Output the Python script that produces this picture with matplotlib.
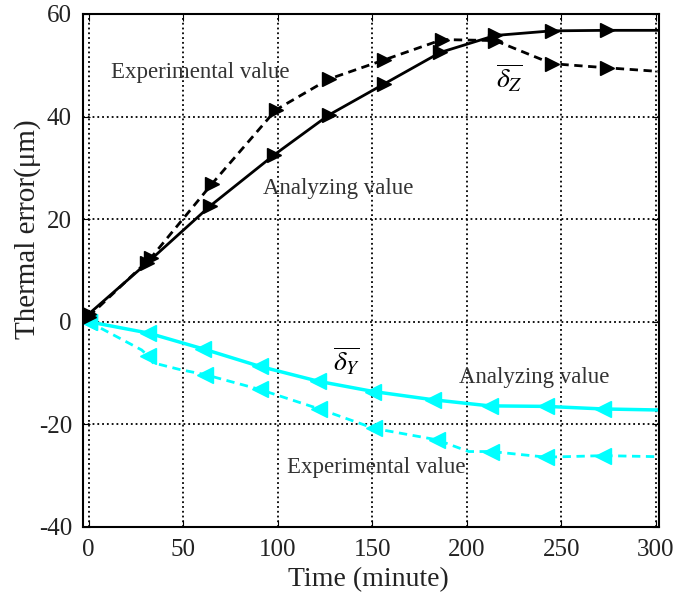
import matplotlib
matplotlib.use("Agg")
import matplotlib.pyplot as plt

plt.rcParams['font.family'] = ['Liberation Serif', 'DejaVu Serif']
plt.rcParams['mathtext.fontset'] = 'stix'
plt.rcParams['axes.unicode_minus'] = False

# Z direction (black)
t_z_ana = [0, 31, 64, 98, 127, 156, 186, 215, 245, 274, 301]
z_ana = [1.5, 11.5, 22.5, 32.5, 40.3, 46.3, 52.5, 55.8, 56.7, 56.8, 56.8]
t_z_exp = [0, 33, 65, 99, 127, 156, 187, 215, 245, 274, 301]
z_exp = [1.0, 12.5, 26.8, 41.3, 47.3, 51.0, 55.0, 54.8, 50.3, 49.5, 48.8]

# Y direction (cyan)
t_y_ana = [0, 31.5, 60.6, 90.5, 121.4, 150.5, 182, 212, 242, 272, 301]
y_ana = [0, -2.2, -5.3, -8.7, -11.6, -13.6, -15.2, -16.4, -16.5, -17.0, -17.2]
t_y_exp = [0, 28, 31.5, 34, 48, 61.5, 90.5, 122, 151, 184, 201, 213, 242, 272, 301]
y_exp = [0, -5.5, -6.7, -8.0, -9.3, -10.3, -13.2, -17.0, -20.8, -23.0, -25.3, -25.3, -26.4, -26.1, -26.3]
y_exp_marks = [0, 2, 5, 6, 7, 8, 9, 11, 12, 13]

xticks = [0, 50, 100, 150, 200, 250, 300]
yticks = [-40, -20, 0, 20, 40, 60]

fig = plt.figure(figsize=(6.75, 6.05), dpi=100)
ax = fig.add_axes([0.123, 0.129, 0.853, 0.848])

cyan = '#00FFFF'
ax.plot(t_y_exp, y_exp, '--', color=cyan, lw=2, marker='<', ms=11, markevery=y_exp_marks,
        dashes=(3, 2))
ax.plot(t_y_ana, y_ana, '-', color=cyan, lw=2.5, marker='<', ms=11, markevery=list(range(10)))
ax.plot(t_z_exp, z_exp, '--', color='black', lw=2, marker='>', ms=10, markevery=list(range(10)),
        dashes=(3, 2))
ax.plot(t_z_ana, z_ana, '-', color='black', lw=2, marker='>', ms=10, markevery=list(range(10)))

ax.set_xlim(-3, 301.5)
ax.set_ylim(-40, 60)
ax.set_xticks(xticks)
ax.set_yticks(yticks)
ax.grid(True, color='black', linestyle=':', linewidth=1.3)
ax.tick_params(direction='in', labelsize=18, length=5, colors='black',
               top=True, right=True)
ax.tick_params(axis='x', pad=9)
ax.tick_params(axis='y', pad=8)
for lab in ax.get_xticklabels() + ax.get_yticklabels():
    lab.set_color('#222222')
for s in ax.spines.values():
    s.set_linewidth(1.5)

ax.set_xlabel('Time (minute)', fontsize=20, color='#222222')
ax.set_ylabel('Thermal error(μm)', fontsize=21, color='#222222')
ax.xaxis.set_label_coords(0.495, -0.078)
ax.yaxis.set_label_coords(-0.073, 0.58)

tc = '#333333'
ax.text(58.8, 48.6, 'Experimental value', fontsize=16.5, color=tc, ha='center', va='center')
ax.text(131.9, 26.0, 'Analyzing value', fontsize=16.5, color=tc, ha='center', va='center')
ax.text(235.4, -10.9, 'Analyzing value', fontsize=16.5, color=tc, ha='center', va='center')
ax.text(151.9, -28.5, 'Experimental value', fontsize=16.5, color=tc, ha='center', va='center')
ax.text(222.7, 47.4, r'$\overline{\delta_Z}$', fontsize=20, color='black', ha='center', va='center')
ax.text(136.5, -7.8, r'$\overline{\delta_Y}$', fontsize=20, color='black', ha='center', va='center')

fig.savefig('out.png', dpi=100)
